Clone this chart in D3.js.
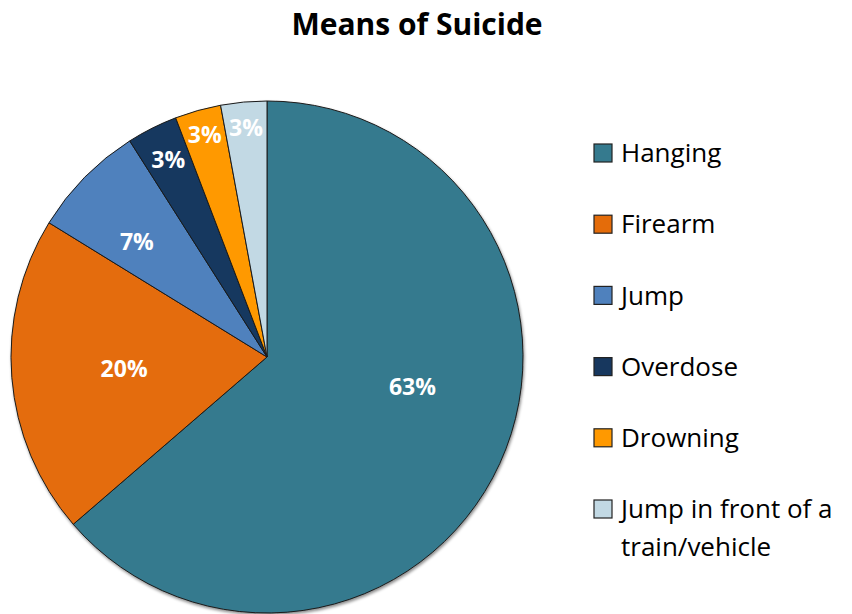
<!DOCTYPE html>
<html lang="en">
	<head>
		<meta charset="utf-8">
		<title>Means of Suicide</title>
		<script src="https://d3js.org/d3.v7.min.js"></script>
		<style type="text/css">
			body { margin: 0; background: #fff; }
			text { font-family: "Open Sans", Lato, sans-serif; }
		</style>
	</head>
	<body>
		<script type="text/javascript">

			//Data
			var categories = ["Hanging", "Firearm", "Jump", "Overdose", "Drowning", "Jump in front of a train/vehicle"];
			var values = [63.6, 20.1, 7.2, 3.2, 2.9, 2.9];
			var labels = ["63%", "20%", "7%", "3%", "3%", "3%"];
			var colors = ["#357A8E", "#E46C0A", "#4F81BD", "#17375E", "#FF9900", "#C2D9E4"];

			//Label placement (fraction of radius, angle shift in degrees)
			var labelR = [0.58, 0.56, 0.68, 0.86, 0.9, 0.9];
			var labelShift = [-13, 0, -3, 0, 0, 0];

			var w = 852;
			var h = 614;
			var cx = 267, cy = 357, r = 256;

			var svg = d3.select("body")
						.append("svg")
						.attr("width", w)
						.attr("height", h);

			var defs = svg.append("defs");
			defs.append("filter")
				.attr("id", "shadow")
				.attr("x", "-10%").attr("y", "-10%")
				.attr("width", "120%").attr("height", "120%")
				.append("feDropShadow")
				.attr("dx", 1).attr("dy", 2)
				.attr("stdDeviation", 1.5)
				.attr("flood-color", "#000")
				.attr("flood-opacity", 0.45);

			//Title
			svg.append("text")
				.attr("x", 417)
				.attr("y", 35)
				.attr("text-anchor", "middle")
				.attr("font-size", "30px")
				.attr("font-weight", "bold")
				.attr("fill", "#000")
				.text("Means of Suicide");

			var pie = d3.pie().sort(null).value(function(d) { return d; });
			var arcs = pie(values);

			var arc = d3.arc().innerRadius(0).outerRadius(r);

			var g = svg.append("g")
				.attr("transform", "translate(" + cx + "," + cy + ")");

			g.append("g")
				.attr("filter", "url(#shadow)")
				.selectAll("path")
				.data(arcs)
				.enter()
				.append("path")
				.attr("d", arc)
				.attr("fill", function(d, i) { return colors[i]; })
				.attr("stroke", "#1a1a1a")
				.attr("stroke-width", 1);

			//Slice labels
			g.selectAll("text.lbl")
				.data(arcs)
				.enter()
				.append("text")
				.attr("class", "lbl")
				.attr("x", function(d, i) {
					var a = (d.startAngle + d.endAngle) / 2 + labelShift[i] * Math.PI / 180;
					return Math.sin(a) * r * labelR[i];
				})
				.attr("y", function(d, i) {
					var a = (d.startAngle + d.endAngle) / 2 + labelShift[i] * Math.PI / 180;
					return -Math.cos(a) * r * labelR[i];
				})
				.attr("dy", "0.35em")
				.attr("text-anchor", "middle")
				.attr("font-size", "23px")
				.attr("font-weight", "bold")
				.attr("fill", "#fff")
				.text(function(d, i) { return labels[i]; });

			//Legend
			var legend = svg.append("g")
				.attr("transform", "translate(594,153)");

			var item = legend.selectAll("g")
				.data(categories)
				.enter()
				.append("g")
				.attr("transform", function(d, i) { return "translate(0," + (i * 71.2) + ")"; });

			item.append("rect")
				.attr("x", 0)
				.attr("y", -9)
				.attr("width", 18)
				.attr("height", 18)
				.attr("fill", function(d, i) { return colors[i]; })
				.attr("stroke", "#222")
				.attr("stroke-width", 1.2);

			item.each(function(d) {
				var t = d3.select(this).append("text")
					.attr("x", 27)
					.attr("y", 0)
					.attr("dy", "0.35em")
					.attr("font-size", "26px")
					.attr("fill", "#000");
				if (d.indexOf("train") >= 0) {
					t.append("tspan").attr("x", 27).text("Jump in front of a");
					t.append("tspan").attr("x", 27).attr("dy", "1.45em").text("train/vehicle");
				} else {
					t.text(d);
				}
			});

		</script>
	</body>
</html>
